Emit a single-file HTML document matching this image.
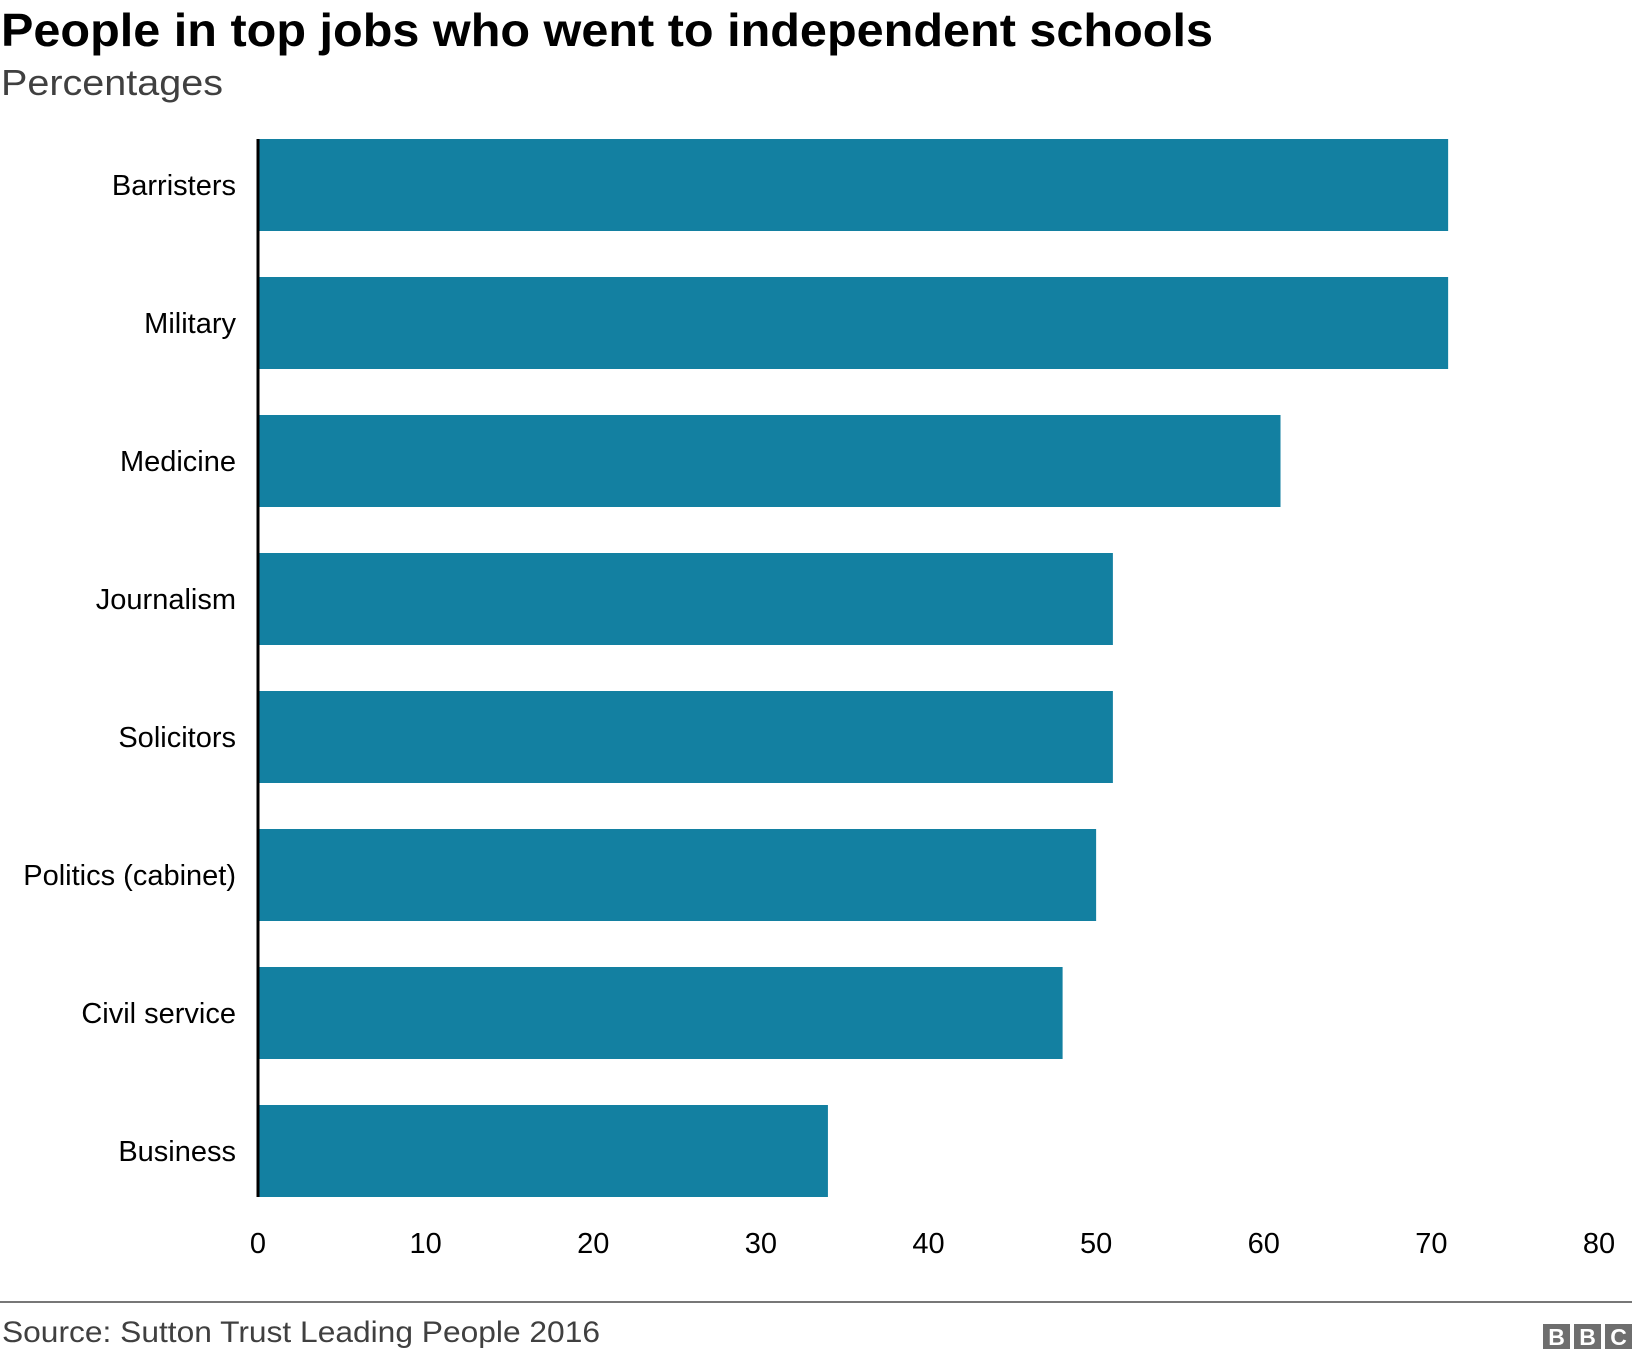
<!DOCTYPE html>
<html><head><meta charset="utf-8"><style>
html,body{margin:0;padding:0;background:#fff;}
svg{display:block;font-family:"Liberation Sans",Arial,sans-serif;}
</style></head><body>
<svg id="chart" width="1632" height="1358" viewBox="0 0 1632 1358" xmlns="http://www.w3.org/2000/svg">
<text x="1" y="46" font-size="46" font-weight="bold" fill="#000" textLength="1212" lengthAdjust="spacingAndGlyphs">People in top jobs who went to independent schools</text>
<text x="1" y="95" font-size="36" fill="#404040" textLength="222" lengthAdjust="spacingAndGlyphs">Percentages</text>
<g id="bars"></g>
<g id="ylabels"></g>
<g id="xticks"></g>
<line x1="258" y1="139" x2="258" y2="1197" stroke="#000" stroke-width="3"/>
<line x1="0" y1="1302" x2="1632" y2="1302" stroke="#777" stroke-width="2"/>
<text x="2" y="1342" font-size="30" fill="#404040" textLength="598" lengthAdjust="spacingAndGlyphs">Source: Sutton Trust Leading People 2016</text>
<g>
<rect x="1543" y="1324" width="27" height="25" fill="#6e6e6e"/>
<rect x="1574" y="1324" width="27" height="25" fill="#6e6e6e"/>
<rect x="1605" y="1324" width="27" height="25" fill="#6e6e6e"/>
<text x="1556.5" y="1345" font-size="23" font-weight="bold" fill="#fff" text-anchor="middle">B</text>
<text x="1587.5" y="1345" font-size="23" font-weight="bold" fill="#fff" text-anchor="middle">B</text>
<text x="1618.5" y="1345" font-size="23" font-weight="bold" fill="#fff" text-anchor="middle">C</text>
</g>
</svg>
<script>
const categories = ["Barristers","Military","Medicine","Journalism","Solicitors","Politics (cabinet)","Civil service","Business"];
const values = [71,71,61,51,51,50,48,34];
const tickValues = [0,10,20,30,40,50,60,70,80];
const NS = "http://www.w3.org/2000/svg";
const x0 = 258, x1 = 1599, xMax = 80;
const topY = 139, step = 138, barH = 92;
function xs(v){ return x0 + (v / xMax) * (x1 - x0); }
function ys(i){ return topY + i * step; }
const bars = document.getElementById('bars');
const yl = document.getElementById('ylabels');
const xt = document.getElementById('xticks');
categories.forEach((c, i) => {
  const r = document.createElementNS(NS, 'rect');
  
  
  r.setAttribute('x', xs(0));
  r.setAttribute('y', ys(i));
  r.setAttribute('width', xs(values[i]) - xs(0));
  r.setAttribute('height', barH);
  r.setAttribute('fill', '#1380a1');
  bars.appendChild(r);
  const t = document.createElementNS(NS, 'text');
  
  
  t.setAttribute('x', 236);
  t.setAttribute('y', ys(i) + barH / 2 + 10);
  t.setAttribute('font-size', '29');
  t.setAttribute('text-anchor', 'end');
  t.setAttribute('fill', '#000');
  t.textContent = c;
  yl.appendChild(t);
});
tickValues.forEach(v => {
  const t = document.createElementNS(NS, 'text');
  
  
  t.setAttribute('x', xs(v));
  t.setAttribute('y', 1253);
  t.setAttribute('font-size', '29');
  t.setAttribute('text-anchor', 'middle');
  t.setAttribute('fill', '#000');
  t.textContent = v;
  xt.appendChild(t);
});
</script>
</body></html>
